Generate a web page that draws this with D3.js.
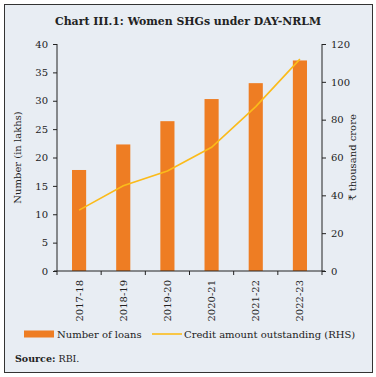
<!DOCTYPE html>
<html>
<head>
<meta charset="utf-8">
<script src="https://cdn.jsdelivr.net/npm/d3@7"></script>
<style>
  body { margin: 0; background: #fff; }
  svg { display: block; }
</style>
</head>
<body>
<div id="chart"></div>
<script>
// data
const years = ["2017-18", "2018-19", "2019-20", "2020-21", "2021-22", "2022-23"];
const loans = [17.8, 22.3, 26.4, 30.3, 33.1, 37.1];        // number of loans, lakh
const credit = [32.2, 45.1, 52.9, 65.4, 86.9, 112.0];     // ₹ thousand crore (RHS)
const leftTicks = [0, 5, 10, 15, 20, 25, 30, 35, 40];
const rightTicks = [0, 20, 40, 60, 80, 100, 120];

function main() {
    const W = 376, H = 377;
    const margin = {top: 44, right: 54, bottom: 106, left: 57},
        width = W - margin.left - margin.right,
        height = H - margin.top - margin.bottom;
    const font = "'DejaVu Serif', serif";

    const svg = d3.select("#chart").append("svg")
        .attr("width", W)
        .attr("height", H);

    // panel + frame
    svg.append("rect")
        .attr("x", 4.5).attr("y", 4.5)
        .attr("width", 368).attr("height", 368)
        .attr("fill", "#e8edf3")
        .attr("stroke", "#333").attr("stroke-width", 1);

    svg.append("text")
        .attr("x", W / 2).attr("y", 25)
        .attr("text-anchor", "middle")
        .attr("font-family", font)
        .attr("font-weight", "bold")
        .style("font-size", "10.9px")
        .attr("fill", "#222")
        .text("Chart III.1: Women SHGs under DAY-NRLM");

    const g = svg.append("g")
        .attr("transform", `translate(${margin.left}, ${margin.top})`);

    const x = d3.scaleBand().domain(years).range([0, width]).paddingInner(0.68).paddingOuter(0.34);
    const xl = d3.scaleBand().domain(years).range([0, width]);
    const y = d3.scaleLinear().domain([0, 40]).range([height, 0]);
    const y2 = d3.scaleLinear().domain([0, 120]).range([height, 0]);

    // bars
    g.append("g").selectAll("rect")
        .data(years)
        .enter()
        .append("rect")
        .attr("x", d => xl(d) + xl.bandwidth() / 2 - x.bandwidth() / 2)
        .attr("y", (d, i) => y(loans[i]))
        .attr("width", x.bandwidth())
        .attr("height", (d, i) => height - y(loans[i]))
        .attr("fill", "#ee7d23");

    // line
    const line = d3.line()
        .x((d, i) => xl(years[i]) + xl.bandwidth() / 2)
        .y(d => y2(d));
    g.append("path")
        .datum(credit)
        .attr("d", line)
        .attr("fill", "none")
        .attr("stroke", "#fbbb1a")
        .attr("stroke-width", 1.6);

    // axes
    const yAxis = g.append("g")
        .call(d3.axisLeft(y).tickValues(leftTicks).tickSize(4).tickPadding(5));
    const y2Axis = g.append("g")
        .attr("transform", `translate(${width}, 0)`)
        .call(d3.axisRight(y2).tickValues(rightTicks).tickSize(4).tickPadding(5));

    const bounds = years.map(d => xl(d)).concat([width]);
    const xAxis = g.append("g")
        .attr("transform", `translate(0, ${height})`);
    xAxis.append("line")
        .attr("x1", -3).attr("x2", width + 3)
        .attr("stroke", "#222");
    xAxis.selectAll(".tk")
        .data(bounds)
        .enter()
        .append("line")
        .attr("x1", d => d).attr("x2", d => d)
        .attr("y1", 0).attr("y2", 4)
        .attr("stroke", "#222");
    xAxis.selectAll(".lab")
        .data(years)
        .enter()
        .append("text")
        .attr("transform", d => `translate(${xl(d) + xl.bandwidth() / 2 + 3.5}, 9) rotate(-90)`)
        .attr("text-anchor", "end")
        .attr("font-family", font)
        .style("font-size", "10px")
        .attr("fill", "#222")
        .text(d => d);

    [yAxis, y2Axis].forEach(a => {
        a.select(".domain").attr("d", `M0,${height}V0`).attr("stroke", "#222");
        a.selectAll(".tick line").attr("stroke", "#222");
        a.selectAll("text")
            .attr("font-family", font)
            .style("font-size", "10px")
            .attr("fill", "#222");
    });

    // axis titles
    svg.append("text")
        .attr("transform", `translate(21, ${margin.top + height / 2}) rotate(-90)`)
        .attr("text-anchor", "middle")
        .attr("font-family", font)
        .style("font-size", "10px")
        .attr("fill", "#222")
        .text("Number (in lakhs)");
    svg.append("text")
        .attr("transform", `translate(356, ${margin.top + height / 2}) rotate(-90)`)
        .attr("text-anchor", "middle")
        .attr("font-family", font)
        .style("font-size", "10px")
        .attr("fill", "#222")
        .text("₹ thousand crore");

    // legend
    const lg = svg.append("g").attr("transform", "translate(0, 334)");
    lg.append("rect")
        .attr("x", 24).attr("y", -3.5)
        .attr("width", 30).attr("height", 7)
        .attr("fill", "#ee7d23");
    lg.append("text")
        .attr("x", 57).attr("y", 3.5)
        .attr("font-family", font)
        .style("font-size", "10px")
        .attr("fill", "#222")
        .text("Number of loans");
    lg.append("line")
        .attr("x1", 152).attr("x2", 182)
        .attr("stroke", "#fbbb1a").attr("stroke-width", 1.6);
    lg.append("text")
        .attr("x", 184).attr("y", 3.5)
        .attr("font-family", font)
        .style("font-size", "10px")
        .attr("fill", "#222")
        .text("Credit amount outstanding (RHS)");

    const src = svg.append("text")
        .attr("x", 15).attr("y", 362)
        .attr("font-family", font)
        .style("font-size", "9.5px")
        .attr("fill", "#222");
    src.append("tspan").attr("font-weight", "bold").text("Source:");
    src.append("tspan").text(" RBI.");
}

main()
</script>
</body>
</html>
